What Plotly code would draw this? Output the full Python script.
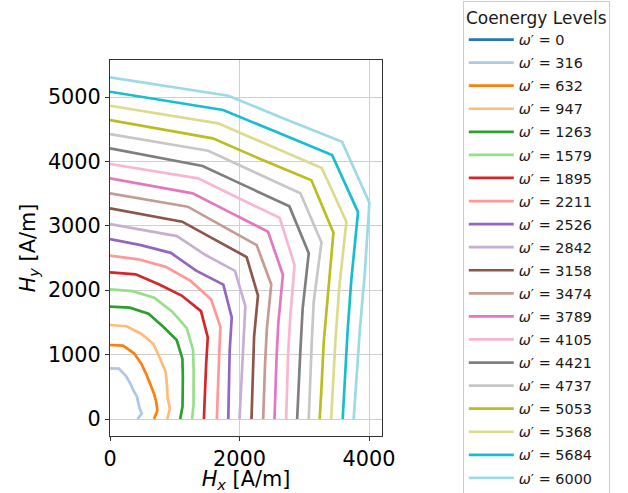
import plotly.graph_objects as go

# Coenergy contour levels (J/m^3) and their tab20 colours
levels = [0, 316, 632, 947, 1263, 1579, 1895, 2211, 2526, 2842,
          3158, 3474, 3789, 4105, 4421, 4737, 5053, 5368, 5684, 6000]
colors = ["#1f77b4", "#aec7e8", "#ff7f0e", "#ffbb78", "#2ca02c", "#98df8a",
          "#d62728", "#ff9896", "#9467bd", "#c5b0d5", "#8c564b", "#c49c94",
          "#e377c2", "#f7b6d2", "#7f7f7f", "#c7c7c7", "#bcbd22", "#dbdb8d",
          "#17becf", "#9edae5"]

# Contour vertices (A/m), sampled along field directions 90°, 80°, ..., 0°
hx_0000 = [0]
hy_0000 = [0]
hx_0316 = [0, 138, 245, 316, 365, 415, 437, 457, 490, 425]
hy_0316 = [787, 782, 672, 547, 435, 348, 252, 166, 86, 0]
hx_0632 = [0, 201, 371, 490, 568, 631, 680, 715, 731, 680]
hy_0632 = [1149, 1140, 1020, 849, 677, 530, 392, 260, 129, 0]
hx_0947 = [0, 254, 482, 672, 777, 862, 880, 890, 925, 885]
hy_0947 = [1460, 1440, 1325, 1164, 927, 723, 508, 324, 163, 0]
hx_1263 = [0, 305, 595, 826, 1030, 1118, 1125, 1127, 1120, 1085]
hy_1263 = [1744, 1730, 1635, 1430, 1227, 938, 650, 410, 198, 0]
hx_1579 = [0, 350, 685, 962, 1185, 1282, 1292, 1295, 1290, 1268]
hy_1579 = [2014, 1985, 1882, 1666, 1412, 1076, 746, 471, 227, 0]
hx_1895 = [0, 396, 761, 1106, 1405, 1510, 1485, 1476, 1465, 1450]
hy_1895 = [2278, 2246, 2090, 1917, 1675, 1267, 857, 537, 258, 0]
hx_2211 = [0, 437, 860, 1240, 1560, 1705, 1685, 1672, 1663, 1650]
hy_2211 = [2536, 2480, 2363, 2148, 1860, 1430, 972, 609, 293, 0]
hx_2526 = [0, 476, 939, 1330, 1750, 1880, 1848, 1838, 1832, 1826]
hy_2526 = [2795, 2700, 2580, 2304, 2086, 1578, 1066, 669, 323, 0]
hx_2842 = [0, 517, 1034, 1470, 1930, 2090, 2060, 2040, 2020, 2000]
hy_2842 = [3028, 2934, 2840, 2550, 2300, 1754, 1189, 743, 356, 0]
hx_3158 = [0, 559, 1115, 1611, 2110, 2285, 2225, 2210, 2197, 2185]
hy_3158 = [3272, 3168, 3064, 2790, 2515, 1917, 1284, 804, 387, 0]
hx_3474 = [0, 600, 1200, 1731, 2265, 2490, 2422, 2395, 2378, 2365]
hy_3474 = [3505, 3401, 3297, 2999, 2700, 2089, 1398, 872, 419, 0]
hx_3789 = [0, 638, 1276, 1853, 2440, 2670, 2600, 2571, 2555, 2540]
hy_3789 = [3737, 3621, 3505, 3209, 2908, 2240, 1500, 936, 450, 0]
hx_4105 = [0, 679, 1360, 1982, 2620, 2850, 2785, 2750, 2733, 2720]
hy_4105 = [3960, 3849, 3737, 3433, 3123, 2391, 1607, 1001, 481, 0]
hx_4421 = [0, 717, 1430, 2090, 2770, 3069, 2975, 2940, 2915, 2890]
hy_4421 = [4203, 4066, 3929, 3620, 3302, 2575, 1717, 1070, 513, 0]
hx_4737 = [0, 757, 1516, 2217, 2940, 3265, 3145, 3113, 3090, 3069]
hy_4737 = [4425, 4296, 4166, 3840, 3505, 2740, 1815, 1133, 544, 0]
hx_5053 = [0, 794, 1587, 2329, 3110, 3450, 3360, 3301, 3270, 3238]
hy_5053 = [4643, 4501, 4359, 4034, 3707, 2894, 1939, 1202, 576, 0]
hx_5368 = [0, 834, 1671, 2455, 3270, 3650, 3540, 3484, 3450, 3414]
hy_5368 = [4865, 4728, 4591, 4251, 3898, 3063, 2043, 1268, 607, 0]
hx_5684 = [0, 871, 1746, 2572, 3429, 3830, 3725, 3667, 3630, 3593]
hy_5684 = [5082, 4940, 4798, 4455, 4099, 3213, 2150, 1335, 639, 0]
hx_6000 = [0, 910, 1827, 2691, 3583, 4005, 3935, 3859, 3813, 3763]
hy_6000 = [5306, 5162, 5020, 4663, 4306, 3360, 2272, 1405, 672, 0]

curves = [
    (hx_0000, hy_0000), (hx_0316, hy_0316), (hx_0632, hy_0632),
    (hx_0947, hy_0947), (hx_1263, hy_1263), (hx_1579, hy_1579),
    (hx_1895, hy_1895), (hx_2211, hy_2211), (hx_2526, hy_2526),
    (hx_2842, hy_2842), (hx_3158, hy_3158), (hx_3474, hy_3474),
    (hx_3789, hy_3789), (hx_4105, hy_4105), (hx_4421, hy_4421),
    (hx_4737, hy_4737), (hx_5053, hy_5053), (hx_5368, hy_5368),
    (hx_5684, hy_5684), (hx_6000, hy_6000),
]

FONT = "DejaVu Sans"

fig = go.Figure()
for lvl, col, (hx, hy) in zip(levels, colors, curves):
    fig.add_trace(go.Scatter(
        x=hx, y=hy, mode="lines",
        line=dict(color=col, width=2.7),
        name=f"<i>ω</i>′ = {lvl}",
        legendgroup=str(lvl),
    ))

axis_common = dict(
    showgrid=True, gridcolor="#cfcfcf", gridwidth=1,
    showline=True, linecolor="#333333", linewidth=1, mirror=True,
    ticks="outside", ticklen=4, tickwidth=1, tickcolor="#333333",
    zeroline=False, automargin=True,
    tickfont=dict(family=FONT, size=20.8, color="black"),
)

fig.update_layout(
    width=628, height=493,
    margin=dict(l=110, r=246, t=60, b=57, autoexpand=False),
    plot_bgcolor="white", paper_bgcolor="white",
    font=dict(family=FONT, color="black"),
    xaxis=dict(range=[0, 4200], tickvals=[0, 2000, 4000],
               title=dict(text="<i>H</i><sub><i>x</i></sub> [A/m]",
                          font=dict(family=FONT, size=20.8), standoff=4),
               **axis_common),
    yaxis=dict(range=[-264, 5575], tickvals=[0, 1000, 2000, 3000, 4000, 5000],
               title=dict(text="<i>H</i><sub><i>y</i></sub> [A/m]",
                          font=dict(family=FONT, size=20.8), standoff=6),
               **axis_common),
    legend=dict(
        x=1.297, xanchor="left", y=1.158, yanchor="top",
        bgcolor="rgba(255,255,255,0.8)", bordercolor="#cccccc", borderwidth=1,
        font=dict(family=FONT, size=14.4, color="#1a1a1a"),
        title=dict(text="Coenergy Levels", side="top center",
                   font=dict(family=FONT, size=17, color="#1a1a1a")),
        tracegroupgap=1.35, maxheight=700, itemwidth=45,
    ),
    showlegend=True,
)

fig.write_html("out.html")
